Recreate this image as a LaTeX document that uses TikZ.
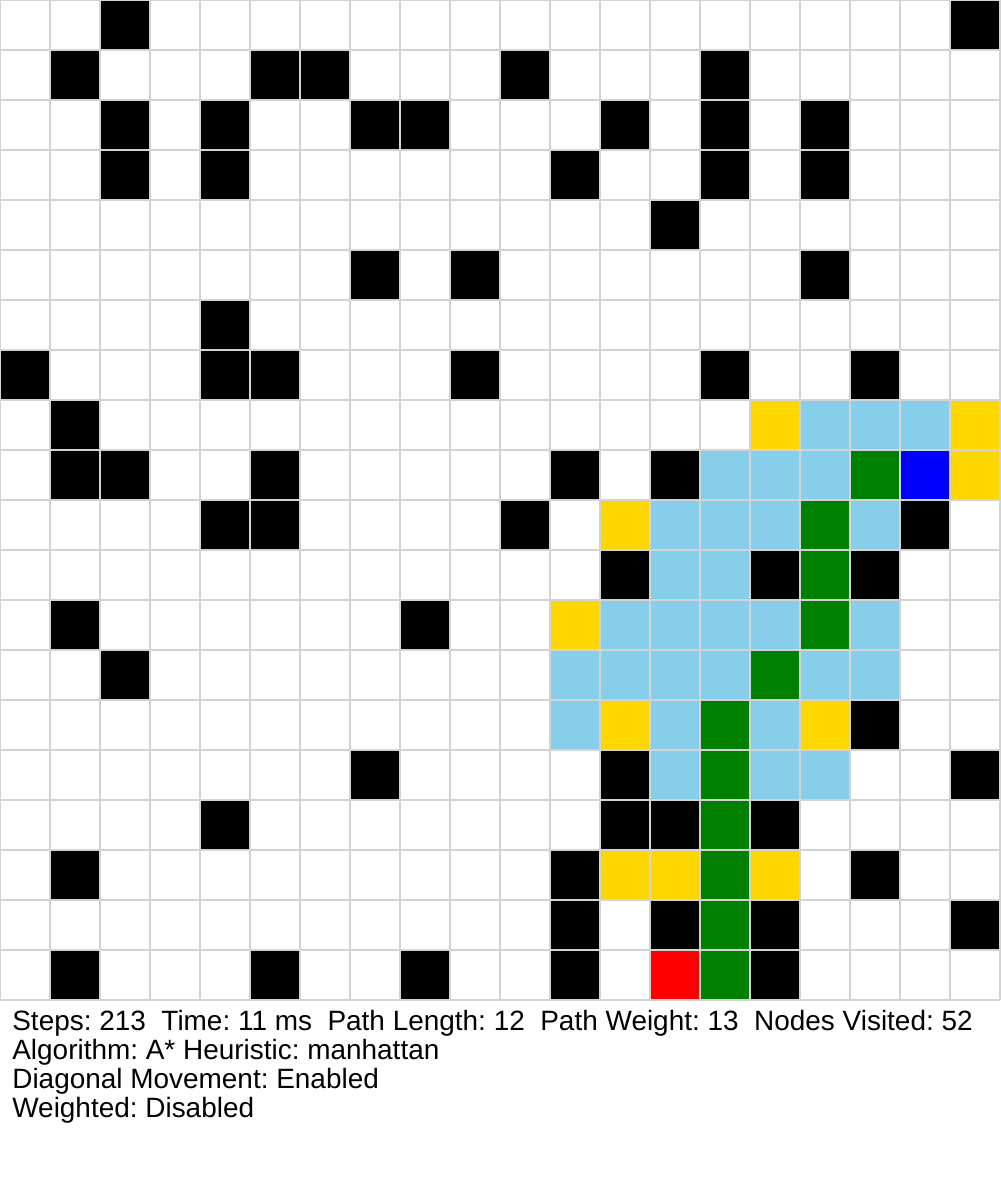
\documentclass[tikz,border=0pt]{standalone}
\usepackage{fontspec}
\setmainfont{Liberation Sans}
\usepackage{tikz}
\usetikzlibrary{positioning}
\frenchspacing
\definecolor{gridgray}{RGB}{211,211,211}
\definecolor{frontieryellow}{RGB}{255,215,0}
\definecolor{visitedblue}{RGB}{135,206,235}
\definecolor{pathgreen}{RGB}{0,128,0}
\definecolor{goalblue}{RGB}{0,0,255}
\definecolor{startred}{RGB}{255,0,0}
\tikzset{
    gridcell/.style={draw=gridgray, line width=0.6pt},
    wallcell/.style={gridcell, fill=black},
    frontiercell/.style={gridcell, fill=frontieryellow},
    visitedcell/.style={gridcell, fill=visitedblue},
    pathcell/.style={gridcell, fill=pathgreen},
    goalcell/.style={gridcell, fill=goalblue},
    startcell/.style={gridcell, fill=startred},
    statline/.style={anchor=base west, inner sep=0pt, font=\fontsize{15.9}{18}\selectfont}
}

\begin{document}
\begin{tikzpicture}
  \useasboundingbox (0,0) rectangle (20,-24);
  \fill[white] (0,0) rectangle (20,-24);
  % empty grid
  \draw[gridcell] (0,-20) grid (20,0);
  % walls
  \foreach \c/\r in {2/0, 19/0, 1/1, 5/1, 6/1, 10/1, 14/1,
      2/2, 4/2, 7/2, 8/2, 12/2, 14/2, 16/2, 2/3, 4/3, 11/3, 14/3, 16/3,
      13/4, 7/5, 9/5, 16/5, 4/6, 0/7, 4/7, 5/7, 9/7, 14/7, 17/7, 1/8,
      1/9, 2/9, 5/9, 11/9, 13/9, 4/10, 5/10, 10/10, 18/10, 12/11, 15/11, 17/11,
      1/12, 8/12, 2/13, 17/14, 7/15, 12/15, 19/15, 4/16, 12/16, 13/16, 15/16,
      1/17, 11/17, 17/17, 11/18, 13/18, 15/18, 19/18,
      1/19, 5/19, 8/19, 11/19, 15/19} {
      \draw[wallcell] (\c,-\r) rectangle ++(1,-1);
  }
  % visited
  \foreach \c/\r in {16/8, 17/8, 18/8, 14/9, 15/9, 16/9, 13/10, 14/10, 15/10, 17/10,
      13/11, 14/11, 12/12, 13/12, 14/12, 15/12, 17/12,
      11/13, 12/13, 13/13, 14/13, 16/13, 17/13, 11/14, 13/14, 15/14,
      13/15, 15/15, 16/15} {
      \draw[visitedcell] (\c,-\r) rectangle ++(1,-1);
  }
  % frontier
  \foreach \c/\r in {15/8, 19/8, 19/9, 12/10, 11/12, 12/14, 16/14, 12/17, 13/17, 15/17} {
      \draw[frontiercell] (\c,-\r) rectangle ++(1,-1);
  }
  % path
  \foreach \c/\r in {17/9, 16/10, 16/11, 16/12, 15/13, 14/14, 14/15, 14/16, 14/17, 14/18, 14/19} {
      \draw[pathcell] (\c,-\r) rectangle ++(1,-1);
  }
  \draw[goalcell] (18,-9) rectangle ++(1,-1);
  \draw[startcell] (13,-19) rectangle ++(1,-1);
  % stats
  \node[statline] (stats) at (0.24,-20.6) {Steps: 213~ Time: 11 ms~ Path Length: 12~ Path Weight: 13~ Nodes Visited: 52};
  \node[statline] (algo) at (0.24,-21.18) {Algorithm: A* Heuristic: manhattan};
  \node[statline] (diag) at (0.24,-21.76) {Diagonal Movement: Enabled};
  \node[statline] (weight) at (0.24,-22.34) {Weighted: Disabled};
\end{tikzpicture}
\end{document}
